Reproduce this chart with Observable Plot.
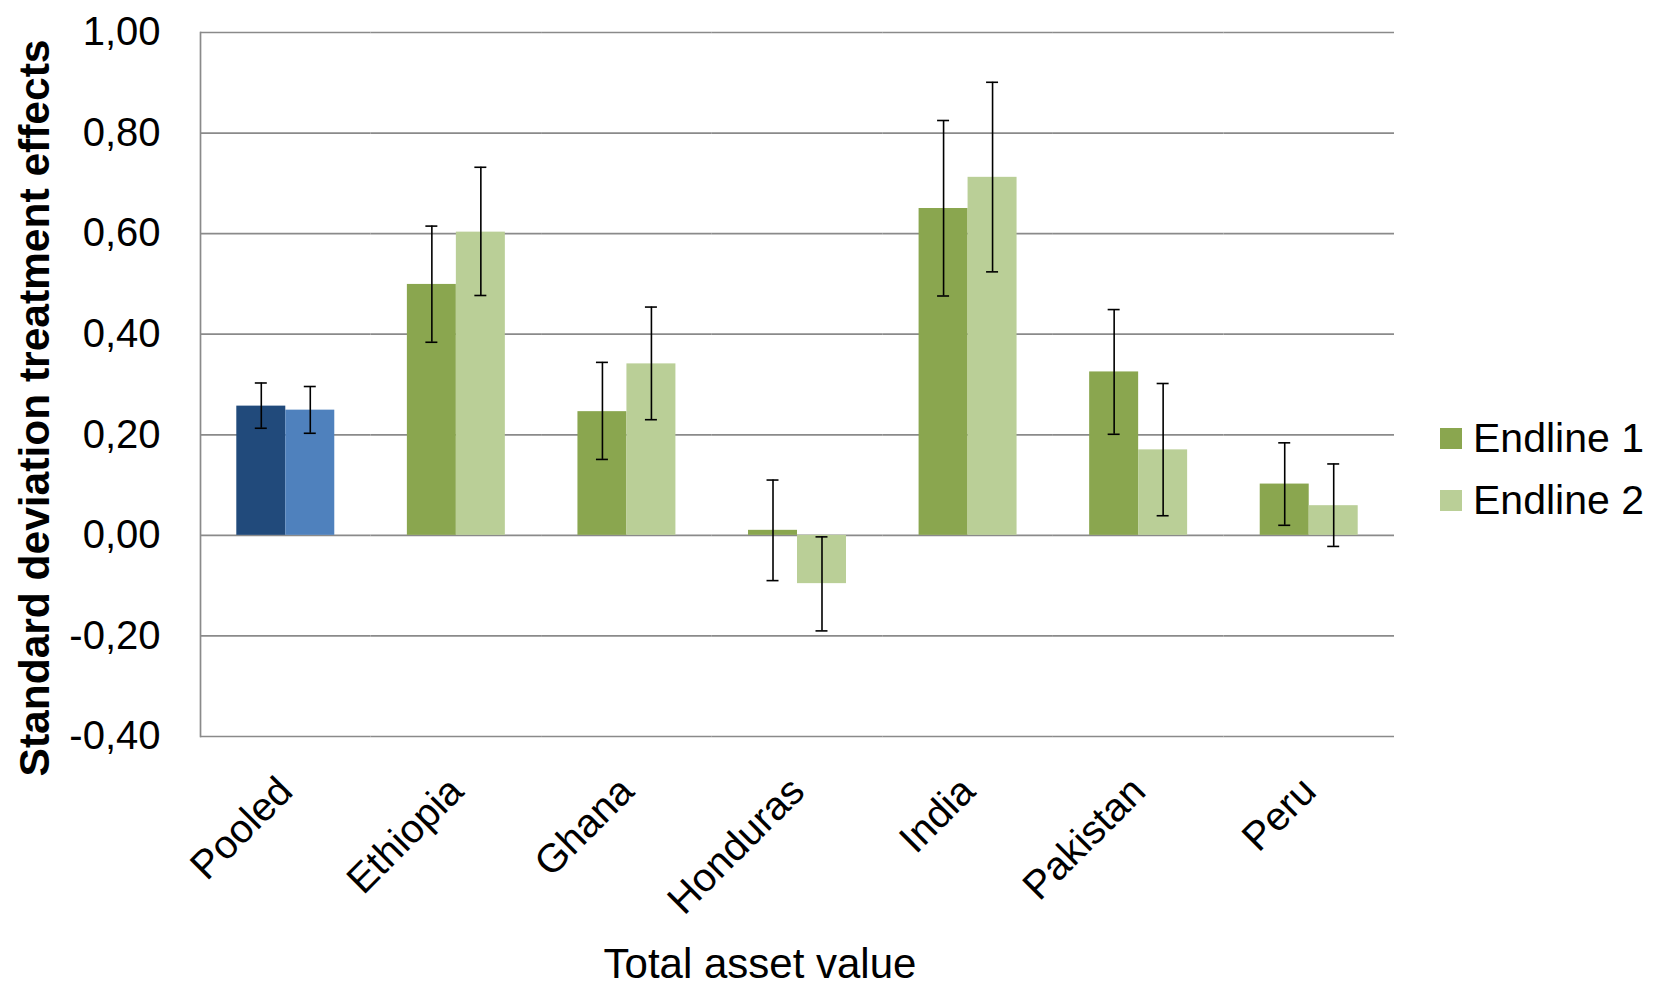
<!DOCTYPE html>
<html>
<head>
<meta charset="utf-8">
<script src="https://cdn.jsdelivr.net/npm/d3@7"></script>
<script src="https://cdn.jsdelivr.net/npm/@observablehq/plot@0.6"></script>
<style>
  html, body { margin: 0; padding: 0; background: #ffffff; }
  #chart {
    position: relative;
    width: 1654px;
    height: 982px;
    font-family: "Liberation Sans", Arial, Helvetica, sans-serif;
    color: #000;
  }
  #chart svg { position: absolute; left: 0; top: 0; }
  .ytitle {
    position: absolute;
    left: 35px;
    top: 408px;
    transform: translate(-50%, -50%) rotate(-90deg);
    font-size: 42.5px;
    font-weight: bold;
    white-space: nowrap;
    line-height: 1;
  }
  .xtitle {
    position: absolute;
    left: 760px;
    top: 947px;
    transform: translateX(-50%);
    font-size: 42px;
    white-space: nowrap;
    line-height: 0.8;
  }
  .legend { position: absolute; left: 1440px; top: 428px; }
  .legend .item { display: flex; align-items: center; height: 21px; margin-bottom: 41px; }
  .legend .swatch { width: 22px; height: 21px; margin-right: 11px; flex: none; }
  .legend .label { font-size: 41px; line-height: 1; white-space: nowrap; }
</style>
</head>
<body>
<div id="chart"></div>
<script>
// Countries along the x axis
const countries = ["Pooled", "Ethiopia", "Ghana", "Honduras", "India", "Pakistan", "Peru"];
// Survey rounds
const series = ["Endline 1", "Endline 2"];

// Treatment effects (standard deviations) and confidence bounds, per country
const endline1   = [0.257, 0.499, 0.246,  0.010, 0.650, 0.325, 0.102];
const endline1Lo = [0.213, 0.384, 0.151, -0.090, 0.476, 0.201, 0.020];
const endline1Hi = [0.303, 0.615, 0.344,  0.110, 0.825, 0.449, 0.184];
const endline2   = [0.249, 0.603, 0.341, -0.096, 0.712, 0.170, 0.059];
const endline2Lo = [0.203, 0.477, 0.230, -0.190, 0.524, 0.039, -0.022];
const endline2Hi = [0.296, 0.732, 0.454, -0.003, 0.901, 0.302, 0.142];

// Y axis tick values
const yTicks = [-0.4, -0.2, 0, 0.2, 0.4, 0.6, 0.8, 1.0];

// Palettes: pooled estimate in blue, country estimates in green
const pooledPalette = ["#214a7b", "#4f81bd"];
const countryPalette = ["#8aa64f", "#bacf97"];
const gridColor = "#8a8a8a";

const values = [endline1, endline2];
const lows = [endline1Lo, endline2Lo];
const highs = [endline1Hi, endline2Hi];

const rows = countries.flatMap((country, i) =>
  series.map((s, j) => ({
    country,
    series: s,
    value: values[j][i],
    lo: lows[j][i],
    hi: highs[j][i]
  }))
);

const fillOf = d =>
  (d.country === "Pooled" ? pooledPalette : countryPalette)[series.indexOf(d.series)];

const fmt = v => v.toFixed(2).replace(".", ",");

const chart = Plot.plot({
  width: 1654,
  height: 982,
  marginLeft: 200,
  marginRight: 260,
  marginTop: 32,
  marginBottom: 246,
  style: {
    fontFamily: '"Liberation Sans", Arial, Helvetica, sans-serif',
    fontSize: "40px",
    color: "#000",
    background: "transparent",
    overflow: "visible"
  },
  fx: { domain: countries, padding: 0, round: false, label: null, axis: null },
  x: { domain: series, paddingInner: 0, paddingOuter: 0.741, round: false, axis: null },
  y: { domain: [-0.4, 1.0], label: null },
  color: { type: "identity" },
  marks: [
    Plot.gridY(yTicks, { stroke: gridColor, strokeOpacity: 1, strokeWidth: 1.7 }),
    Plot.frame({ anchor: "left", facetAnchor: "left", stroke: gridColor, strokeWidth: 1.7 }),
    Plot.barY(rows, { fx: "country", x: "series", y: "value", fill: fillOf }),
    Plot.ruleX(rows, { fx: "country", x: "series", y1: "lo", y2: "hi", stroke: "#000", strokeWidth: 1.6 }),
    Plot.tickY(rows, { fx: "country", x: "series", y: "lo", stroke: "#000", strokeWidth: 1.6, insetLeft: 18.5, insetRight: 18.5 }),
    Plot.tickY(rows, { fx: "country", x: "series", y: "hi", stroke: "#000", strokeWidth: 1.6, insetLeft: 18.5, insetRight: 18.5 }),
    Plot.axisY(yTicks, { tickFormat: fmt, tickSize: 0, tickPadding: 40, fontSize: 40, label: null }),
    Plot.axisFx({ anchor: "bottom", tickRotate: -45, tickSize: 0, tickPadding: 48, fontSize: 40, label: null })
  ]
});

const root = document.getElementById("chart");
root.appendChild(chart);

const yTitle = document.createElement("div");
yTitle.className = "ytitle";
yTitle.textContent = "Standard deviation treatment effects";
root.appendChild(yTitle);

const xTitle = document.createElement("div");
xTitle.className = "xtitle";
xTitle.textContent = "Total asset value";
root.appendChild(xTitle);

const legend = document.createElement("div");
legend.className = "legend";
series.forEach((s, j) => {
  const item = document.createElement("div");
  item.className = "item";
  const sw = document.createElement("div");
  sw.className = "swatch";
  sw.style.background = countryPalette[j];
  const lab = document.createElement("div");
  lab.className = "label";
  lab.textContent = s;
  item.appendChild(sw);
  item.appendChild(lab);
  legend.appendChild(item);
});
root.appendChild(legend);
</script>
</body>
</html>
